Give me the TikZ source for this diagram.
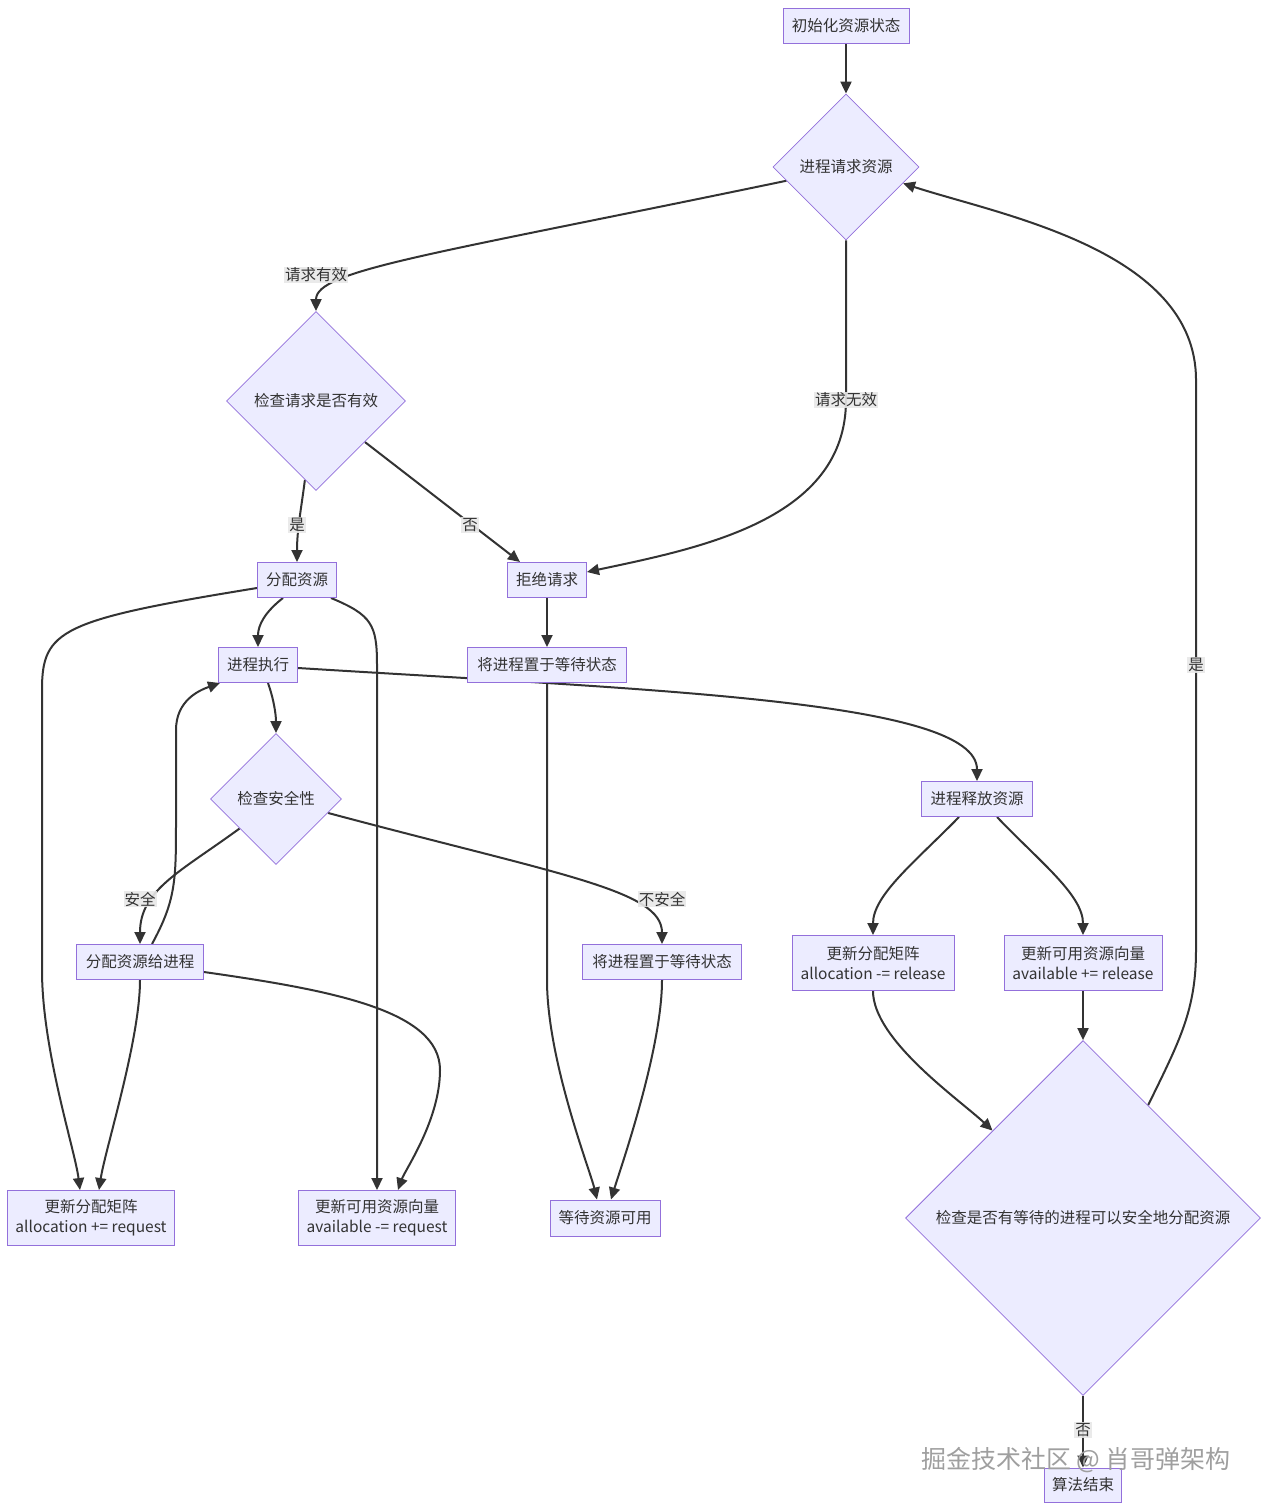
\documentclass[tikz,border=0pt]{standalone}
\usepackage{fontspec}
\setmainfont{Noto Sans CJK SC}
\usetikzlibrary{shapes.geometric,arrows.meta,backgrounds}
\definecolor{nfill}{HTML}{ECECFF}
\definecolor{nstroke}{HTML}{9370DB}
\definecolor{ink}{HTML}{333333}
\definecolor{lbl}{HTML}{E8E8E8}
\begin{document}
\begin{tikzpicture}[x=1pt,y=-1pt,
 every node/.style={text=ink, font=\fontsize{15.5}{20}\selectfont},
 box/.style={draw=nstroke, fill=nfill, line width=1pt, inner sep=0pt, minimum height=35pt, align=center},
 dia/.style={diamond, aspect=1, draw=nstroke, fill=nfill, line width=0.8pt, inner sep=0pt},
 arr/.style={draw=ink, line width=2pt, -{Triangle[length=12pt,width=11pt]}},
 elab/.style={fill=lbl, fill opacity=0.9, text opacity=1, inner sep=1pt}
]
\useasboundingbox (0,0) rectangle (1268,1511);

% nodes
\node[box, minimum width=126pt] (init) at (846,26) {初始化资源状态};
\node[dia, minimum width=146pt, minimum height=146pt] (req) at (846,167) {进程请求资源};
\node[dia, minimum width=179pt, minimum height=179pt] (check) at (316,401) {检查请求是否有效};
\node[box, minimum width=79pt] (alloc) at (297,580) {分配资源};
\node[box, minimum width=79pt] (reject) at (547,580) {拒绝请求};
\node[box, minimum width=79pt] (exec) at (258,665) {进程执行};
\node[box, minimum width=159pt] (wait1) at (547,665) {将进程置于等待状态};
\node[dia, minimum width=131pt, minimum height=131pt] (safe) at (276,799) {检查安全性};
\node[box, minimum width=111pt] (release) at (977,799) {进程释放资源};
\node[box, minimum width=127pt] (atp) at (140,962) {分配资源给进程};
\node[box, minimum width=159pt] (wait2) at (662,962) {将进程置于等待状态};
\node[box, minimum width=162pt, minimum height=55pt] (uarel) at (873,963) {更新分配矩阵\\allocation -= release};
\node[box, minimum width=158pt, minimum height=55pt] (uvrel) at (1083,963) {更新可用资源向量\\available += release};
\node[dia, minimum width=355pt, minimum height=355pt] (big) at (1083,1218) {检查是否有等待的进程可以安全地分配资源};
\node[box, minimum width=167pt, minimum height=55pt] (uareq) at (91,1218) {更新分配矩阵\\allocation += request};
\node[box, minimum width=157pt, minimum height=55pt] (uvreq) at (377,1218) {更新可用资源向量\\available -= request};
\node[box, minimum width=110pt, minimum height=36pt] (wavail) at (605,1218) {等待资源可用};
\node[box, minimum width=77pt, minimum height=34pt] (fin) at (1083,1485) {算法结束};

% edges
\begin{pgfonlayer}{background}
\fill[white] (0,0) rectangle (1268,1511);
\draw[arr] (init) -- (req.north);
\draw[arr] (req.193) .. controls (430,255) and (316,270) .. (check.north);
\draw[arr] (req.south) -- (846,400) .. controls (846,520) and (700,548) .. ([yshift=8pt]reject.east);
\draw[arr] (check.262) .. controls (301,510) and (297,530) .. (alloc.north);
\draw[arr] (check.-40) -- ([xshift=13pt]reject.north west);
\draw[arr] (reject) -- (wait1);
\draw[arr] ([xshift=-14pt]alloc.south) .. controls (265,612) and (258,625) .. (exec.north);
\draw[arr] ([yshift=-8pt]alloc.west) .. controls (60,620) and (42,630) .. (42,690) -- (42,970) .. controls (42,1050) and (75,1150) .. ([xshift=-11pt]uareq.north);
\draw[arr] ([xshift=-6pt]alloc.south east) .. controls (372,615) and (377,625) .. (377,665) -- (uvreq.north);
\draw[arr] ([xshift=10pt]exec.south) .. controls (274,700) and (276,715) .. (safe.north);
\draw[arr] ([yshift=-3pt]exec.east) .. controls (650,690) and (977,700) .. (release.north);
\draw[arr] (wait1.south) -- (547,980) .. controls (547,1060) and (590,1170) .. ([xshift=-8pt]wavail.north);
\draw[arr] (safe.219) .. controls (180,872) and (140,890) .. (atp.north);
\draw[arr] (safe.-15) .. controls (560,875) and (662,890) .. (wait2.north);
\draw[arr] ([xshift=12pt]atp.north) .. controls (176,900) and (176,880) .. (176,820) -- (176,730) .. controls (176,700) and (200,690) .. ([xshift=2pt]exec.south west);
\draw[arr] (atp.south) .. controls (140,1040) and (105,1150) .. ([xshift=8pt]uareq.north);
\draw[arr] ([yshift=-10pt]atp.east) .. controls (330,990) and (440,1010) .. (440,1070) .. controls (440,1120) and (405,1170) .. ([xshift=21pt]uvreq.north);
\draw[arr] (wait2.south) .. controls (662,1050) and (620,1170) .. ([xshift=6pt]wavail.north);
\draw[arr] ([xshift=-18pt]release.south) .. controls (915,862) and (873,895) .. (uarel.north);
\draw[arr] ([xshift=20pt]release.south) .. controls (1040,862) and (1083,895) .. (uvrel.north);
\draw[arr] (uarel.south) .. controls (873,1040) and (960,1100) .. (big.136);
\draw[arr] (uvrel.south) -- (big.north);
\draw[arr] (big.60.5) .. controls (1180,1040) and (1196,1010) .. (1196,950) -- (1196,380) .. controls (1196,250) and (1000,215) .. (req.-16);
\draw[arr] (big.south) -- (fin.north);
\end{pgfonlayer}

% edge labels
\node[elab] (l1) at (316,275) {请求有效};
\node[elab] (l2) at (846,400) {请求无效};
\node[elab] (l3) at (297,525) {是};
\node[elab] (l4) at (470,525) {否};
\node[elab] (l5) at (140,899) {安全};
\node[elab] (l6) at (662,899) {不安全};
\node[elab] (l7) at (1196,665) {是};
\node[elab] (l8) at (1083,1430) {否};

% watermark
\node[font=\fontsize{25}{30}\selectfont, text=gray!75] (wm) at (1076,1460) {掘金技术社区 @ 肖哥弹架构};
\end{tikzpicture}
\end{document}
